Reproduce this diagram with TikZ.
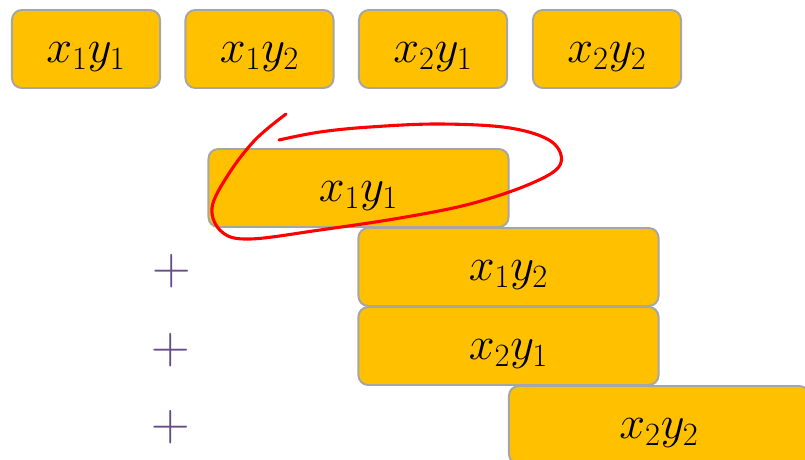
\documentclass[tikz,border=0pt]{standalone}
\usepackage{fix-cm}
\usepackage{xcolor}
\usepackage{tikz}
\usetikzlibrary{positioning,calc}
\definecolor{prodfill}{RGB}{255,192,0}
\definecolor{prodedge}{RGB}{166,166,166}
\definecolor{plusviolet}{RGB}{100,76,135}
\tikzset{
  prodbox/.style={draw=prodedge,fill=prodfill,line width=1.4pt,rounded corners=7pt,
    minimum width=3.7cm,minimum height=1.95cm,inner sep=0pt,
    font=\fontsize{33}{38}\selectfont,text height=0.66cm,text depth=0pt},
  widebox/.style={prodbox,minimum width=7.5cm},
  plussign/.style={text=plusviolet,font=\fontsize{38}{38}\selectfont,inner sep=0pt}
}
\begin{document}
\begin{tikzpicture}[x=0.025cm,y=-0.025cm]
\useasboundingbox (0,0) rectangle (805,460);
\clip (0,0) rectangle (805,460);
% Produits partiels
\node[prodbox] (p11) at (86,49) {$x_1y_1$};
\node[prodbox] (p12) at (259.5,49) {$x_1y_2$};
\node[prodbox] (p21) at (433,49) {$x_2y_1$};
\node[prodbox] (p22) at (607,49) {$x_2y_2$};
% Somme decalee
\node[widebox] (s11) at (358.5,188) {$x_1y_1$};
\node[widebox] (s12) at (508.5,267) {$x_1y_2$};
\node[widebox] (s21) at (508.5,346) {$x_2y_1$};
\node[widebox] (s22) at (659,425) {$x_2y_2$};
\node[plussign] (plusa) at (172,271) {$+$};
\node[plussign] (plusb) at (171,350) {$+$};
\node[plussign] (plusc) at (171,427) {$+$};
% Trait rouge a main levee
\draw[red,line width=2.2pt,line cap=round] plot[smooth,tension=0.6] coordinates {
  (286,114) (255,140) (228,175) (212,208) (222,232) (250,239) (320,230)
  (400,218) (470,204) (530,184) (560,165) (552,142) (510,128) (440,124)
  (370,127) (320,132) (279,140)};
\end{tikzpicture}
\end{document}
